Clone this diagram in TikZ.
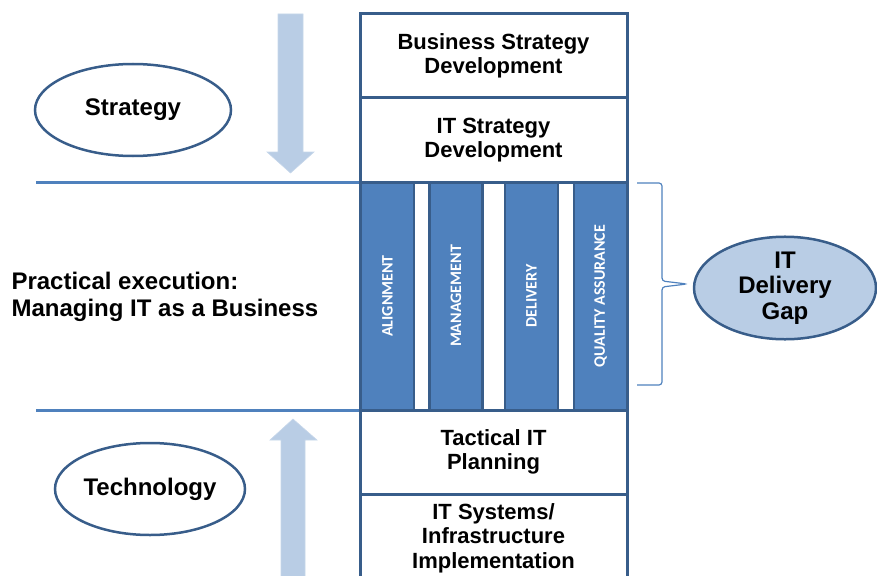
\documentclass[tikz,border=0pt]{standalone}
\usepackage{fontspec}
\setmainfont{Liberation Sans}
\newfontfamily\barfont{Carlito}
\usepackage{xcolor}
\usetikzlibrary{arrows.meta, positioning, calc, shapes.geometric}

\definecolor{frameblue}{HTML}{385D8A}
\definecolor{barblue}{HTML}{4F81BD}
\definecolor{paleblue}{HTML}{B9CDE5}

\tikzset{
  stagebox/.style={draw=frameblue, line width=3pt, minimum width=267pt, minimum height=84pt,
    align=center, font=\fontsize{22}{24.5}\selectfont\bfseries},
  phase/.style={draw=frameblue, line width=2.5pt, fill=barblue, rotate=90, minimum width=228pt,
    minimum height=53pt, text=white, font=\barfont\fontsize{16}{16}\selectfont\bfseries},
  level/.style={ellipse, draw=frameblue, line width=2.5pt, inner sep=0pt, align=center,
    font=\fontsize{24}{25.5}\selectfont\bfseries},
  bigarrow/.style={fill=paleblue, draw=paleblue!80!white, line width=0.6pt},
}

\begin{document}
\begin{tikzpicture}[x=1pt, y=-1pt, >=Stealth]
  \useasboundingbox (0,0) rectangle (877,575);
  \clip (0,0) rectangle (877,575);

  % the four execution columns
  \foreach \n/\x/\t in {align/387.5/ALIGNMENT, manage/456/MANAGEMENT,
                        deliver/531.5/DELIVERY, quality/600.5/QUALITY ASSURANCE}
    \node[phase] (\n) at (\x,296) {\t};

  % stacked planning boxes
  \node[stagebox] (bizstrat) at (493.5,56) {Business Strategy\\Development};
  \node[stagebox] (itstrat) at (493.5,140) {IT Strategy\\Development};
  \node[stagebox, minimum height=228pt] (exec) at (493.5,296) {};
  \node[stagebox] (tactical) at (493.5,452) {Tactical IT\\Planning};
  \node[stagebox, minimum height=88pt] (systems) at (493.5,538) {IT Systems/\\Infrastructure\\Implementation};

  % band edges
  \coordinate (topedge) at (36,182);
  \coordinate (botedge) at (36,410);
  \draw[barblue, line width=3pt] (topedge) -- (topedge -| exec.west);
  \draw[barblue, line width=3pt] (botedge) -- (botedge -| exec.west);

  % big arrows
  \draw[bigarrow] (278,14) -- (303,14) -- (303,152) -- (314,152) -- (290.5,173)
    -- (267,152) -- (278,152) -- cycle;
  \draw[bigarrow] (281,580) -- (281,440) -- (270,440) -- (293,419) -- (317,440)
    -- (305,440) -- (305,580) -- cycle;

  \node[level, minimum width=196pt, minimum height=92pt] (strategy) at (133,110) {Strategy};
  \node[level, minimum width=190pt, minimum height=92pt] (technology) at (150,489) {Technology};

  \node[anchor=west, align=left, font=\fontsize{24}{27}\selectfont\bfseries] (practice) at (8,297)
    {Practical execution:\\Managing IT as a Business};

  % bracket over the columns
  \draw[barblue, line width=1.2pt, rounded corners=3pt] (637,183) -- (662,183) -- (662,281)
    -- (687,284) -- (662,287) -- (662,385) -- (637,385);

  \node[level, fill=paleblue, minimum width=182pt, minimum height=94pt] (gap) at (785,288)
    {IT\\Delivery\\Gap};
\end{tikzpicture}
\end{document}
